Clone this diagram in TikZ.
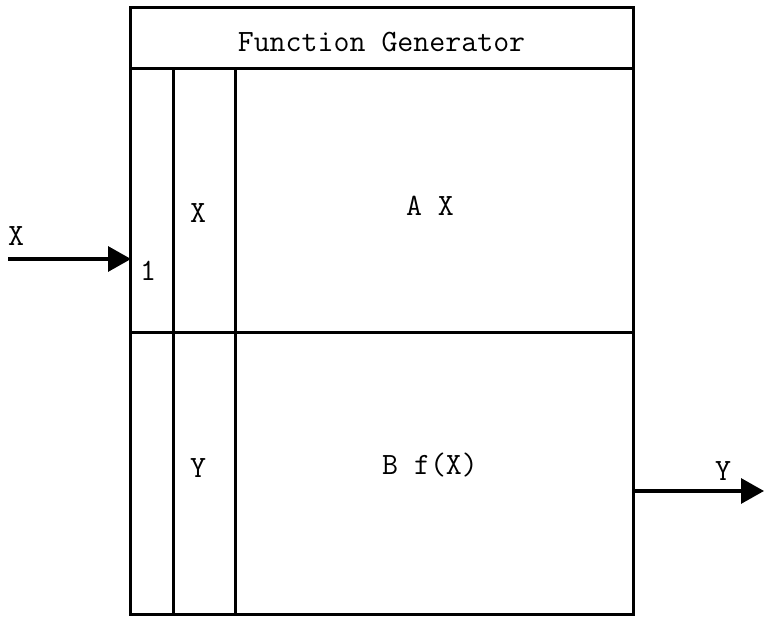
\documentclass[tikz,border=0pt]{standalone}
\usetikzlibrary{arrows.meta}
\begin{document}
\begin{tikzpicture}[x=1pt,y=-1pt,
  frame/.style={line width=3pt},
  sig/.style={line width=3.2pt,-{Triangle[length=23pt,width=25pt]}},
  lbl/.style={inner sep=0pt,font=\ttfamily\fontsize{31}{35}\selectfont}]
\useasboundingbox (0,0) rectangle (764,617);
\coordinate (TL) at (130,8);
\coordinate (BR) at (633,615);
\draw[frame] (TL) rectangle (BR);
\draw[frame] (130,69) -- (633,69);
\draw[frame] (173,69) -- (173,615);
\draw[frame] (235,69) -- (235,615);
\draw[frame] (130,333) -- (633,333);
\node[lbl] (title) at (381.5,42) {Function Generator};
\node[lbl] (one) at (148,271) {1};
\node[lbl] (xin) at (198,213) {X};
\node[lbl] (ax) at (430,206) {A X};
\node[lbl] (yin) at (198,468) {Y};
\node[lbl] (bfx) at (430,465) {B f(X)};
\node[lbl] (xlab) at (16,236) {X};
\node[lbl] (ylab) at (723,471) {Y};
\coordinate (inStart) at (8,259);
\coordinate (inEnd) at (131,259);
\coordinate (outStart) at (633,491);
\coordinate (outEnd) at (764,491);
\draw[sig] (inStart) -- (inEnd);
\draw[sig] (outStart) -- (outEnd);
\end{tikzpicture}
\end{document}
